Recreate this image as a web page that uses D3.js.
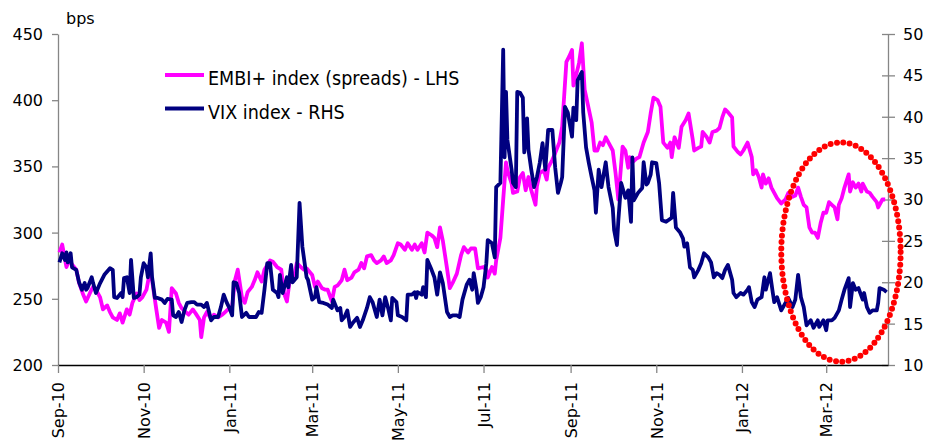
<!DOCTYPE html>
<html>
<head>
<meta charset="utf-8">
<script src="https://cdn.jsdelivr.net/npm/d3@7"></script>
<style>
  html, body { margin: 0; padding: 0; background: #fff; }
  svg { display: block; }
  text { font-family: "DejaVu Sans", Verdana, sans-serif; fill: #000; }
</style>
</head>
<body>
<svg id="chart" width="927" height="442"></svg>
<script>
// ---------- DATA ----------
const xTickDates = ["2010-09-01","2010-11-01","2011-01-01","2011-03-01","2011-05-01","2011-07-01","2011-09-01","2011-11-01","2012-01-01","2012-03-01"];
const xTickLabels = ["Sep-10","Nov-10","Jan-11","Mar-11","May-11","Jul-11","Sep-11","Nov-11","Jan-12","Mar-12"];
const leftTicks = [200, 250, 300, 350, 400, 450];
const rightTicks = [10, 15, 20, 25, 30, 35, 40, 45, 50];
const xDomain = ["2010-09-01", "2012-04-14"];
const seriesNames = ["EMBI+ index (spreads) - LHS", "VIX index - RHS"];
const leftUnit = "bps";

const embiDates = ["2010-09-02","2010-09-04","2010-09-07","2010-09-09","2010-09-11","2010-09-14","2010-09-16","2010-09-19","2010-09-21","2010-09-24","2010-09-26","2010-09-28","2010-10-01","2010-10-03","2010-10-06","2010-10-08","2010-10-10","2010-10-13","2010-10-15","2010-10-17","2010-10-20","2010-10-22","2010-10-24","2010-10-27","2010-10-29","2010-10-31","2010-11-03","2010-11-05","2010-11-07","2010-11-10","2010-11-12","2010-11-14","2010-11-17","2010-11-19","2010-11-21","2010-11-24","2010-11-26","2010-11-28","2010-12-01","2010-12-03","2010-12-06","2010-12-08","2010-12-11","2010-12-12","2010-12-14","2010-12-16","2010-12-19","2010-12-21","2010-12-24","2010-12-27","2010-12-29","2010-12-31","2011-01-03","2011-01-05","2011-01-07","2011-01-10","2011-01-12","2011-01-14","2011-01-17","2011-01-19","2011-01-21","2011-01-24","2011-01-26","2011-01-30","2011-02-01","2011-02-04","2011-02-07","2011-02-09","2011-02-11","2011-02-13","2011-02-16","2011-02-18","2011-02-21","2011-02-23","2011-02-25","2011-03-01","2011-03-03","2011-03-05","2011-03-08","2011-03-10","2011-03-12","2011-03-15","2011-03-17","2011-03-19","2011-03-22","2011-03-24","2011-03-26","2011-03-29","2011-03-31","2011-04-03","2011-04-05","2011-04-07","2011-04-09","2011-04-12","2011-04-14","2011-04-16","2011-04-19","2011-04-21","2011-04-23","2011-04-26","2011-04-28","2011-05-01","2011-05-03","2011-05-06","2011-05-08","2011-05-11","2011-05-13","2011-05-15","2011-05-18","2011-05-20","2011-05-22","2011-05-25","2011-05-27","2011-05-29","2011-05-31","2011-06-02","2011-06-05","2011-06-07","2011-06-09","2011-06-12","2011-06-15","2011-06-17","2011-06-20","2011-06-22","2011-06-25","2011-06-27","2011-07-01","2011-07-03","2011-07-04","2011-07-07","2011-07-09","2011-07-10","2011-07-13","2011-07-15","2011-07-17","2011-07-18","2011-07-21","2011-07-22","2011-07-25","2011-07-27","2011-07-29","2011-07-31","2011-08-02","2011-08-04","2011-08-07","2011-08-08","2011-08-10","2011-08-13","2011-08-15","2011-08-16","2011-08-19","2011-08-21","2011-08-24","2011-08-26","2011-08-29","2011-08-31","2011-09-02","2011-09-03","2011-09-04","2011-09-07","2011-09-09","2011-09-11","2011-09-14","2011-09-16","2011-09-18","2011-09-20","2011-09-22","2011-09-24","2011-09-26","2011-09-28","2011-10-01","2011-10-03","2011-10-05","2011-10-08","2011-10-10","2011-10-12","2011-10-13","2011-10-15","2011-10-18","2011-10-20","2011-10-23","2011-10-26","2011-10-28","2011-10-30","2011-11-02","2011-11-04","2011-11-06","2011-11-09","2011-11-11","2011-11-12","2011-11-14","2011-11-17","2011-11-19","2011-11-22","2011-11-24","2011-11-27","2011-11-28","2011-12-01","2011-12-03","2011-12-04","2011-12-07","2011-12-09","2011-12-11","2011-12-14","2011-12-16","2011-12-18","2011-12-20","2011-12-22","2011-12-25","2011-12-26","2011-12-29","2011-12-31","2012-01-02","2012-01-05","2012-01-08","2012-01-09","2012-01-11","2012-01-13","2012-01-15","2012-01-16","2012-01-18","2012-01-20","2012-01-22","2012-01-24","2012-01-26","2012-01-29","2012-02-01","2012-02-03","2012-02-06","2012-02-08","2012-02-10","2012-02-12","2012-02-14","2012-02-16","2012-02-18","2012-02-20","2012-02-22","2012-02-24","2012-02-26","2012-02-28","2012-03-01","2012-03-03","2012-03-05","2012-03-07","2012-03-09","2012-03-10","2012-03-12","2012-03-14","2012-03-17","2012-03-18","2012-03-20","2012-03-22","2012-03-24","2012-03-26","2012-03-27","2012-03-30","2012-04-01","2012-04-03","2012-04-06","2012-04-07","2012-04-10","2012-04-12"];
const embiValues = [285,291,274,279,276,272,262,253,248,255,259,257,251,242,245,240,236,234,239,232,242,238,247,254,249,251,257,268,264,242,228,234,232,225,258,254,247,243,240,238,242,239,234,221,236,240,235,238,236,238,240,242,244,264,272,251,247,255,259,264,270,263,272,279,278,274,272,254,248,264,266,277,274,272,273,268,259,263,258,257,257,248,259,260,264,272,264,266,270,272,277,273,282,283,279,277,279,282,277,279,283,292,291,287,292,287,291,287,292,285,300,298,296,289,304,294,273,258,262,269,283,289,285,288,288,273,274,272,266,274,269,279,296,325,353,347,337,330,331,342,345,332,342,332,321,335,345,347,340,349,355,360,368,380,429,433,438,411,415,428,443,408,393,383,362,362,368,366,372,368,362,345,325,365,362,349,357,353,356,357,368,376,390,402,400,395,368,364,368,357,372,364,380,385,390,370,362,364,365,376,372,368,376,377,379,387,393,391,387,365,361,359,362,368,357,344,347,342,334,344,337,341,334,330,326,322,325,330,327,328,334,327,321,319,304,300,300,296,307,315,315,323,321,319,310,321,326,334,344,331,338,334,337,331,337,331,330,327,323,319,325,325];

const vixDates = ["2010-09-02","2010-09-04","2010-09-06","2010-09-07","2010-09-08","2010-09-10","2010-09-11","2010-09-14","2010-09-16","2010-09-18","2010-09-20","2010-09-21","2010-09-22","2010-09-25","2010-09-26","2010-09-28","2010-10-01","2010-10-04","2010-10-08","2010-10-10","2010-10-11","2010-10-13","2010-10-16","2010-10-17","2010-10-18","2010-10-20","2010-10-22","2010-10-23","2010-10-25","2010-10-27","2010-10-29","2010-10-30","2010-11-01","2010-11-03","2010-11-04","2010-11-06","2010-11-07","2010-11-09","2010-11-11","2010-11-14","2010-11-16","2010-11-18","2010-11-21","2010-11-22","2010-11-24","2010-11-26","2010-11-28","2010-11-30","2010-12-02","2010-12-05","2010-12-07","2010-12-09","2010-12-12","2010-12-14","2010-12-16","2010-12-19","2010-12-21","2010-12-24","2010-12-26","2010-12-28","2010-12-30","2011-01-01","2011-01-03","2011-01-04","2011-01-06","2011-01-08","2011-01-10","2011-01-13","2011-01-15","2011-01-17","2011-01-20","2011-01-22","2011-01-24","2011-01-26","2011-01-28","2011-01-30","2011-02-01","2011-02-04","2011-02-05","2011-02-06","2011-02-08","2011-02-11","2011-02-12","2011-02-14","2011-02-15","2011-02-18","2011-02-20","2011-02-22","2011-02-25","2011-02-26","2011-03-01","2011-03-03","2011-03-04","2011-03-06","2011-03-09","2011-03-12","2011-03-15","2011-03-16","2011-03-19","2011-03-21","2011-03-22","2011-03-24","2011-03-26","2011-03-28","2011-03-30","2011-04-02","2011-04-04","2011-04-06","2011-04-09","2011-04-11","2011-04-13","2011-04-16","2011-04-18","2011-04-20","2011-04-22","2011-04-24","2011-04-26","2011-04-27","2011-04-30","2011-05-01","2011-05-04","2011-05-07","2011-05-08","2011-05-11","2011-05-13","2011-05-14","2011-05-15","2011-05-18","2011-05-19","2011-05-21","2011-05-22","2011-05-25","2011-05-27","2011-05-29","2011-05-31","2011-06-02","2011-06-05","2011-06-07","2011-06-09","2011-06-12","2011-06-14","2011-06-16","2011-06-19","2011-06-21","2011-06-23","2011-06-24","2011-06-26","2011-06-27","2011-06-29","2011-07-01","2011-07-03","2011-07-04","2011-07-07","2011-07-09","2011-07-10","2011-07-13","2011-07-15","2011-07-16","2011-07-17","2011-07-18","2011-07-21","2011-07-22","2011-07-24","2011-07-25","2011-07-27","2011-07-29","2011-07-30","2011-08-01","2011-08-02","2011-08-04","2011-08-06","2011-08-08","2011-08-10","2011-08-12","2011-08-14","2011-08-16","2011-08-19","2011-08-21","2011-08-23","2011-08-25","2011-08-26","2011-08-28","2011-08-30","2011-09-02","2011-09-03","2011-09-05","2011-09-06","2011-09-09","2011-09-10","2011-09-12","2011-09-14","2011-09-16","2011-09-18","2011-09-19","2011-09-21","2011-09-23","2011-09-26","2011-09-28","2011-10-01","2011-10-02","2011-10-04","2011-10-05","2011-10-07","2011-10-10","2011-10-12","2011-10-14","2011-10-15","2011-10-16","2011-10-19","2011-10-22","2011-10-23","2011-10-25","2011-10-26","2011-10-28","2011-10-29","2011-11-01","2011-11-03","2011-11-05","2011-11-08","2011-11-12","2011-11-13","2011-11-15","2011-11-18","2011-11-20","2011-11-21","2011-11-23","2011-11-25","2011-11-27","2011-11-28","2011-12-01","2011-12-03","2011-12-05","2011-12-08","2011-12-10","2011-12-12","2011-12-14","2011-12-16","2011-12-18","2011-12-20","2011-12-22","2011-12-25","2011-12-26","2011-12-28","2011-12-31","2012-01-02","2012-01-05","2012-01-06","2012-01-08","2012-01-10","2012-01-12","2012-01-15","2012-01-17","2012-01-18","2012-01-21","2012-01-23","2012-01-24","2012-01-26","2012-01-29","2012-02-01","2012-02-03","2012-02-06","2012-02-08","2012-02-10","2012-02-12","2012-02-14","2012-02-16","2012-02-19","2012-02-21","2012-02-24","2012-02-25","2012-02-28","2012-03-01","2012-03-02","2012-03-05","2012-03-07","2012-03-10","2012-03-12","2012-03-14","2012-03-17","2012-03-18","2012-03-20","2012-03-22","2012-03-24","2012-03-27","2012-03-28","2012-03-30","2012-04-01","2012-04-03","2012-04-06","2012-04-07","2012-04-08","2012-04-11","2012-04-13"];
const vixValues = [22.4,23.5,22.7,23.6,22.4,23.5,21.8,21.5,20.0,19.1,19.9,19.1,19.3,20.6,19.9,18.7,19.9,20.9,21.7,21.5,18.2,18.1,18.7,18.2,20.5,20.6,18.7,22.7,18.1,18.2,18.5,20.6,22.3,21.8,20.6,23.5,20.6,18.1,18.1,17.9,17.5,18.0,17.9,16.0,15.8,16.4,15.2,16.6,17.5,17.6,17.6,17.3,17.3,17.0,17.5,15.4,15.8,15.8,17.0,18.5,17.6,16.9,16.0,20.0,19.9,18.7,15.8,16.3,15.8,15.8,15.8,16.4,16.3,19.1,22.3,22.3,19.1,18.7,18.2,20.9,18.7,20.6,19.4,22.1,20.0,20.6,29.6,24.3,20.6,20.3,17.9,18.2,19.4,17.6,17.5,17.3,16.9,17.9,16.6,16.9,15.4,15.8,16.6,14.6,15.1,15.7,14.6,15.4,16.9,18.2,17.6,15.8,17.9,16.0,18.2,16.9,15.4,18.1,17.6,16.0,15.8,15.4,18.5,18.5,18.8,18.1,18.8,18.5,19.4,18.2,22.7,21.5,20.6,18.5,21.2,19.9,16.4,15.8,16.0,16.0,15.8,17.9,19.7,20.3,19.1,21.1,19.1,17.5,18.2,19.4,22.3,25.1,24.7,23.0,31.5,32.0,48.1,35.1,43.0,37.2,33.6,32.0,31.5,43.0,42.9,42.3,35.7,39.8,36.0,33.6,31.5,32.7,34.4,36.8,33.6,38.4,38.4,33.9,30.8,32.0,32.7,41.2,40.5,37.6,41.1,39.6,44.4,45.4,40.5,36.3,34.4,32.7,31.1,28.4,33.6,31.5,34.5,31.5,29.0,26.3,24.5,27.5,32.0,30.2,31.1,27.3,35.1,29.9,30.8,31.4,34.5,31.8,32.0,33.0,34.5,34.4,32.0,27.5,27.3,27.8,30.8,26.6,26.0,25.3,24.3,24.7,21.8,21.5,20.6,21.5,22.3,23.5,23.0,22.4,20.6,21.1,20.9,20.5,21.5,22.1,20.3,18.7,18.2,18.7,18.5,19.1,19.4,17.6,17.0,17.9,18.2,20.6,19.1,21.1,18.7,17.6,18.2,16.6,17.5,18.1,17.0,17.9,20.9,18.2,17.0,14.8,15.4,14.5,15.4,14.6,15.4,14.2,15.4,15.4,15.7,16.6,17.9,19.1,20.5,17.0,19.9,19.1,19.3,17.9,18.7,17.0,16.3,16.6,16.6,17.5,19.3,19.1,18.8];

// annotation ellipse bounds (dates, right-axis values)
const circleDates = ["2012-01-29", "2012-04-23"];
const circleValues = [10.4, 36.9];

// ---------- CHART ----------
const parse = d3.timeParse("%Y-%m-%d");
const svg = d3.select("#chart");
const M = { left: 58, right: 888, top: 34, bottom: 365 };

const x = d3.scaleTime().domain(xDomain.map(parse)).range([M.left, M.right]);
const yL = d3.scaleLinear().domain([200, 450]).range([M.bottom, M.top]);
const yR = d3.scaleLinear().domain([10, 50]).range([M.bottom, M.top]);

const AXIS_GRAY = "#868686";

// Left axis
const gL = svg.append("g").attr("transform", `translate(${M.left},0)`)
  .call(d3.axisLeft(yL).tickValues(leftTicks).tickSize(6).tickSizeOuter(0).tickPadding(9));
gL.select(".domain").attr("stroke", AXIS_GRAY).attr("stroke-width", 1.3);
gL.selectAll(".tick line").attr("stroke", AXIS_GRAY).attr("stroke-width", 1.3);
gL.selectAll(".tick text").attr("font-size", 16).attr("font-family", "DejaVu Sans").attr("fill", "#000").attr("dy", "0.34em");

// Right axis (ticks cross the axis)
const gR = svg.append("g").attr("transform", `translate(${M.right},0)`)
  .call(d3.axisRight(yR).tickValues(rightTicks).tickSize(7).tickSizeOuter(0).tickPadding(8));
gR.select(".domain").attr("stroke", AXIS_GRAY).attr("stroke-width", 1.3);
gR.selectAll(".tick line").attr("x1", -6).attr("x2", 7).attr("stroke", AXIS_GRAY).attr("stroke-width", 1.3);
gR.selectAll(".tick text").attr("font-size", 16).attr("font-family", "DejaVu Sans").attr("fill", "#000").attr("x", 15).attr("dy", "0.34em");

// Bottom axis
const gB = svg.append("g").attr("transform", `translate(0,${M.bottom})`)
  .call(d3.axisBottom(x).tickValues(xTickDates.map(parse))
    .tickFormat((d, i) => xTickLabels[i]).tickSize(8).tickSizeOuter(0));
gB.select(".domain").attr("stroke", "#000").attr("stroke-width", 1.3);
gB.selectAll(".tick line").attr("stroke", AXIS_GRAY).attr("stroke-width", 1.3);
gB.selectAll(".tick text")
  .attr("font-size", 16).attr("font-family", "DejaVu Sans").attr("fill", "#000")
  .attr("text-anchor", "end")
  .attr("transform", "translate(0,17) rotate(-90)")
  .attr("x", 0).attr("y", 0).attr("dy", "0.36em");

// unit label
svg.append("text").attr("x", 66).attr("y", 24).attr("font-size", 16).text(leftUnit);

// Lines
const embi = embiDates.map((d, i) => ({ date: parse(d), v: embiValues[i] }));
const vix = vixDates.map((d, i) => ({ date: parse(d), v: vixValues[i] }));

svg.append("path").datum(embi)
  .attr("fill", "none").attr("stroke", "#FF00FF").attr("stroke-width", 3.8)
  .attr("stroke-linejoin", "round")
  .attr("d", d3.line().x(d => x(d.date)).y(d => yL(d.v)));

svg.append("path").datum(vix)
  .attr("fill", "none").attr("stroke", "#000080").attr("stroke-width", 3.8)
  .attr("stroke-linejoin", "round")
  .attr("d", d3.line().x(d => x(d.date)).y(d => yR(d.v)));

// Legend
const legendColors = ["#FF00FF", "#000080"];
const legend = svg.append("g");
seriesNames.forEach((name, i) => {
  const ly = 75 + i * 33.5;
  legend.append("line").attr("x1", 165).attr("x2", 204).attr("y1", ly).attr("y2", ly)
    .attr("stroke", legendColors[i]).attr("stroke-width", 4);
  legend.append("text").attr("x", 208).attr("y", ly + 10)
    .attr("font-size", 19.5)
    .attr("font-family", "'DejaVu Sans Condensed', 'DejaVu Sans'")
    .style("font-stretch", "condensed")
    .text(name);
});

// Red dotted ellipse annotation
const ex0 = x(parse(circleDates[0])), ex1 = x(parse(circleDates[1]));
const ey0 = yR(circleValues[0]), ey1 = yR(circleValues[1]);
svg.append("ellipse")
  .attr("cx", (ex0 + ex1) / 2).attr("cy", (ey0 + ey1) / 2)
  .attr("rx", Math.abs(ex1 - ex0) / 2).attr("ry", Math.abs(ey0 - ey1) / 2)
  .attr("fill", "none").attr("stroke", "#FF0000").attr("stroke-width", 6)
  .attr("stroke-linecap", "round").attr("stroke-dasharray", "0 6.4");
</script>
</body>
</html>
